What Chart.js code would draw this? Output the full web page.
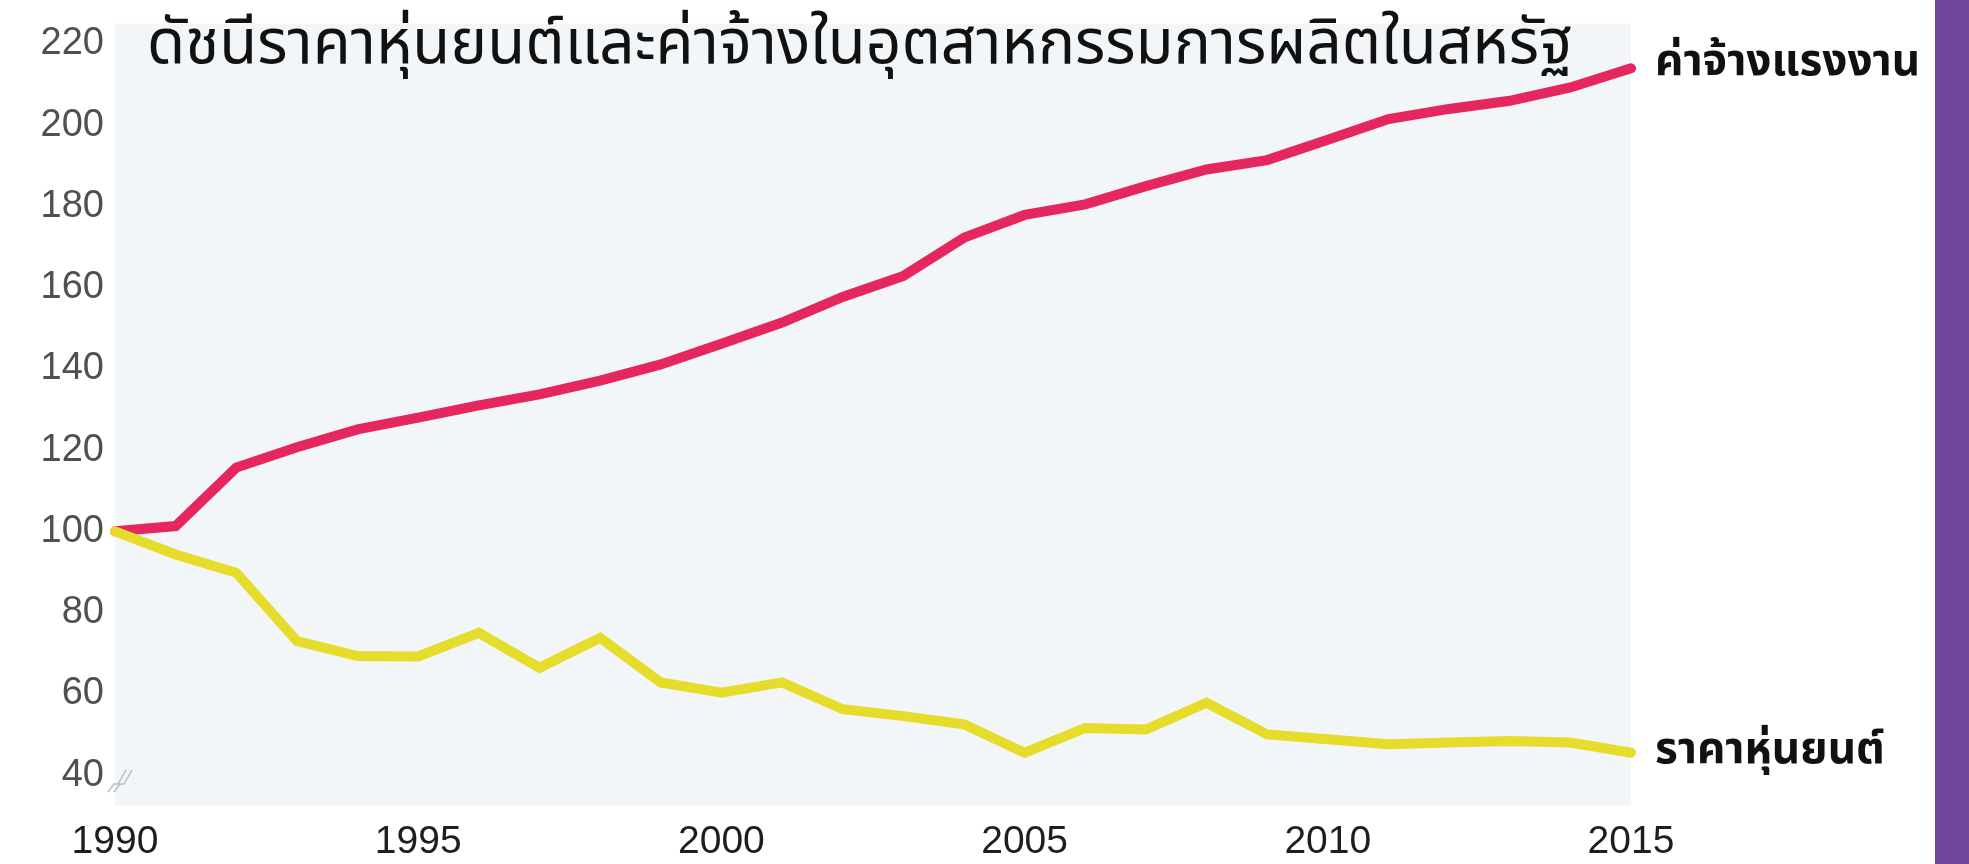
<!DOCTYPE html>
<html lang="th">
<head>
<meta charset="utf-8">
<title>Robot prices and wages</title>
<script src="https://cdn.jsdelivr.net/npm/chart.js@4.4.1/dist/chart.umd.min.js"></script>
<style>
  html, body { margin: 0; padding: 0; background: #fff; }
  #wrap { width: 1969px; height: 864px; position: relative; }
</style>
</head>
<body>
<div id="wrap"><canvas id="robotChart" width="1969" height="864"></canvas></div>
<script>
// values (index, 1990 = 100)
var years = ['1990', '1991', '1992', '1993', '1994', '1995', '1996', '1997', '1998', '1999',
  '2000', '2001', '2002', '2003', '2004', '2005', '2006', '2007', '2008', '2009',
  '2010', '2011', '2012', '2013', '2014', '2015'];
var wageIndex = [100, 101.3, 115.7, 120.7, 125.1, 128, 131, 133.7, 137.1, 141.1,
  146.2, 151.4, 157.7, 162.9, 172.3, 177.9, 180.5, 185, 189.1, 191.4,
  196.4, 201.5, 204, 206, 209.3, 214];
var robotPrice = [100, 94.3, 89.8, 73, 69.3, 69.2, 75, 66.4, 73.8, 62.8,
  60.3, 62.8, 56.2, 54.5, 52.5, 45.5, 51.6, 51.2, 57.8, 50,
  48.8, 47.6, 48, 48.4, 48, 45.5];
var yTicks = [40, 60, 80, 100, 120, 140, 160, 180, 200, 220];

var titleText = 'ดัชนีราคาหุ่นยนต์และค่าจ้างในอุตสาหกรรมการผลิตในสหรัฐ';
var wageLabel = 'ค่าจ้างแรงงาน';
var robotLabel = 'ราคาหุ่นยนต์';

var pink = '#e5265f';
var yellow = '#e6dc2b';
var thaiFont = '"Noto Sans Thai", "Noto Sans", "DejaVu Sans", sans-serif';

var decor = {
  id: 'decor',
  beforeDraw: function(chart) {
    var ctx = chart.ctx, a = chart.chartArea, ys = chart.scales.y;
    ctx.save();
    ctx.fillStyle = '#ffffff';
    ctx.fillRect(0, 0, chart.width, chart.height);
    // light panel behind the plot, a bit taller than the value range
    var top = Math.max(ys.getPixelForValue(225), 0);
    var bottom = ys.getPixelForValue(32.5);
    ctx.fillStyle = '#f3f6f9';
    ctx.fillRect(a.left, top, a.right - a.left, bottom - top);
    // purple strip on the right edge
    ctx.fillStyle = '#6f4499';
    ctx.fillRect(1935, 0, chart.width - 1935, chart.height);
    ctx.restore();
  },
  afterDraw: function(chart) {
    var ctx = chart.ctx, a = chart.chartArea;
    ctx.save();
    // title
    ctx.fillStyle = '#111';
    ctx.font = '62px ' + thaiFont;
    ctx.textBaseline = 'middle';
    ctx.textAlign = 'left';
    ctx.fillText(titleText, a.left + 32, 50);

    // end labels next to the last points
    var xs = chart.scales.x, ys = chart.scales.y;
    var last = years.length - 1;
    var xEnd = xs.getPixelForValue(last);
    ctx.font = 'bold 44px ' + thaiFont;
    ctx.fillStyle = '#111';
    ctx.fillText(wageLabel, xEnd + 24, ys.getPixelForValue(wageIndex[last]) - 2);
    ctx.fillText(robotLabel, xEnd + 24, ys.getPixelForValue(robotPrice[last]) + 1);

    // axis break mark
    ctx.strokeStyle = '#b5bcc6';
    ctx.lineWidth = 1.5;
    ctx.beginPath();
    ctx.moveTo(108, 792); ctx.lineTo(114, 784); ctx.lineTo(118, 784); ctx.lineTo(126, 770);
    ctx.moveTo(114, 792); ctx.lineTo(120, 784); ctx.lineTo(124, 784); ctx.lineTo(132, 770);
    ctx.stroke();
    ctx.restore();
  }
};

var chart = new Chart(document.getElementById('robotChart'), {
  type: 'line',
  data: {
    labels: years,
    datasets: [{
      label: robotLabel,
      data: robotPrice,
      borderColor: yellow,
      borderWidth: 10,
      borderCapStyle: 'round',
      pointRadius: 0,
      tension: 0,
      fill: false,
      order: 1
    }, {
      label: wageLabel,
      data: wageIndex,
      borderColor: pink,
      borderWidth: 10,
      borderCapStyle: 'round',
      pointRadius: 0,
      tension: 0,
      fill: false,
      order: 2
    }]
  },
  options: {
    responsive: false,
    animation: false,
    devicePixelRatio: 1,
    layout: { padding: { left: 0, right: 338, top: 20, bottom: 0 } },
    plugins: {
      legend: { display: false },
      tooltip: { enabled: false },
      title: { display: false }
    },
    scales: {
      x: {
        offset: false,
        grid: { display: false, drawTicks: false },
        border: { display: false },
        ticks: {
          autoSkip: false,
          maxRotation: 0,
          padding: 20,
          color: '#1e1e1e',
          font: { family: '"Liberation Sans", Arial, sans-serif', size: 39 },
          callback: function(v, i) { return (+years[i]) % 5 === 0 ? years[i] : ''; }
        },
        afterFit: function(s) { s.height = 65; }
      },
      y: {
        min: 34.1,
        max: 222.5,
        grid: { display: false, drawTicks: false },
        border: { display: false },
        ticks: {
          padding: 11,
          color: '#505050',
          font: { family: '"Liberation Sans", Arial, sans-serif', size: 38 }
        },
        afterBuildTicks: function(s) { s.ticks = yTicks.map(function(v) { return { value: v }; }); },
        afterFit: function(s) { s.width = 115; }
      }
    }
  },
  plugins: [decor]
});
</script>
</body>
</html>
